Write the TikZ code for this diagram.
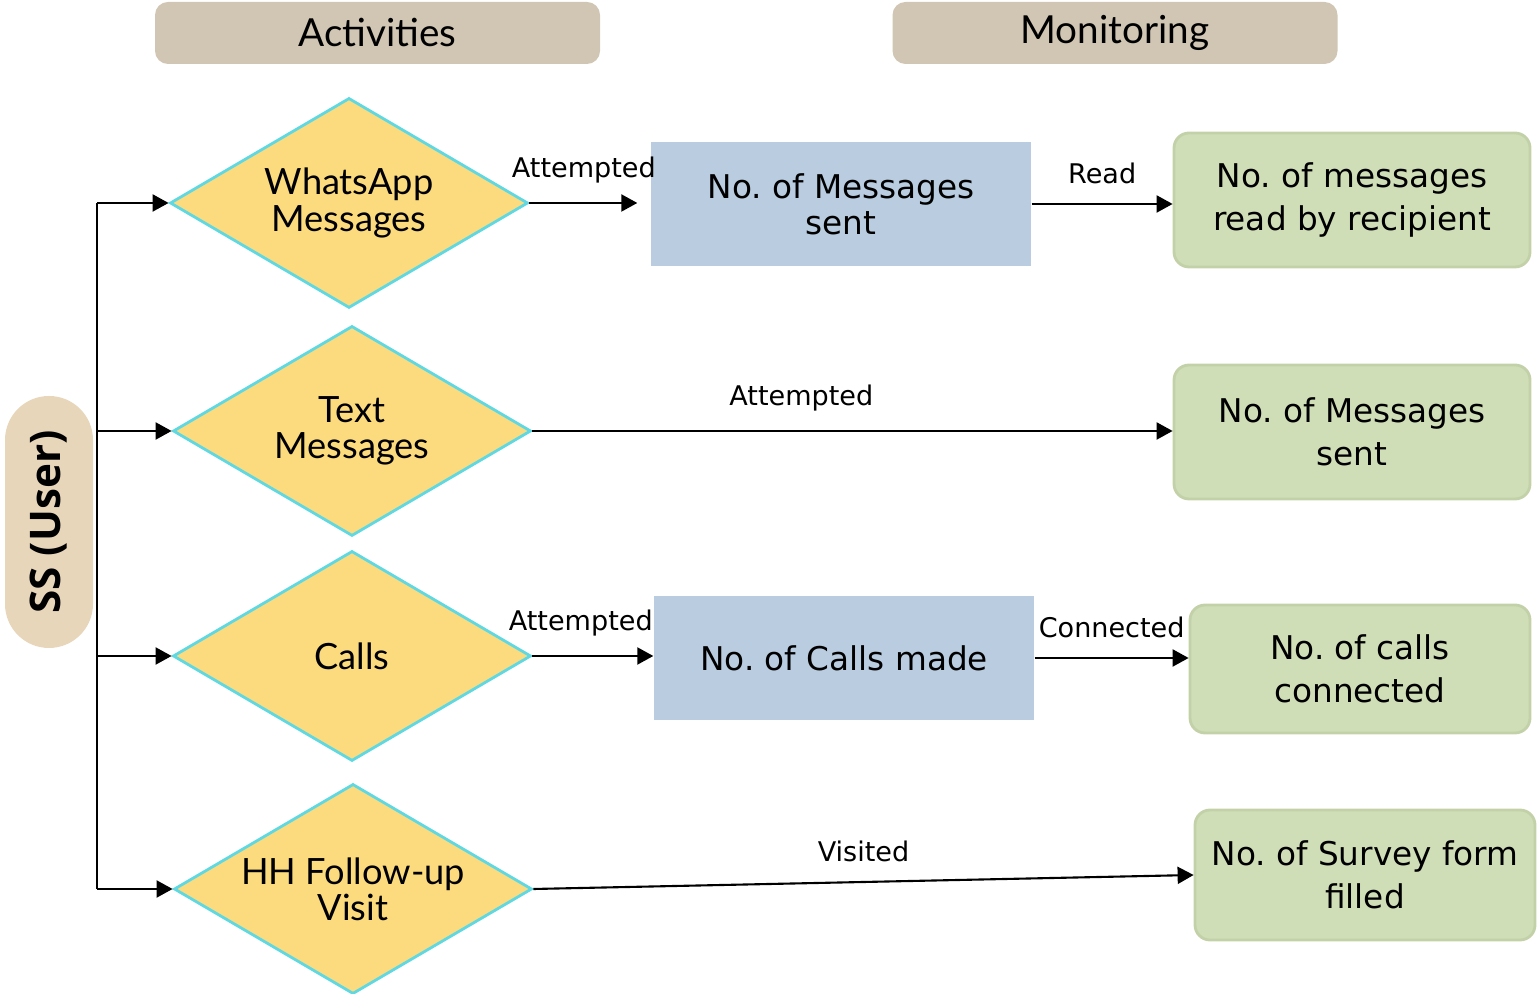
\documentclass[tikz,border=0pt]{standalone}
\usepackage{fontspec}
\setmainfont{DejaVu Sans}
\newfontfamily\latofont{Lato}
\newfontfamily\opensans{Open Sans}
\usetikzlibrary{shapes.geometric,arrows.meta}
\definecolor{headtan}{HTML}{D0C6B3}
\definecolor{usertan}{HTML}{E8D6BA}
\definecolor{actyellow}{HTML}{FCDB7E}
\definecolor{actcyan}{HTML}{5FD8E2}
\definecolor{cntblue}{HTML}{B9CCE0}
\definecolor{resgreen}{HTML}{D0DEB8}
\definecolor{resline}{HTML}{C3D1A8}

\begin{document}
\frenchspacing
\begin{tikzpicture}[
	arr/.style={line width=0.6pt, -{Triangle[length=0.16cm,width=0.17cm]}},
	head/.style={rounded corners=0.13cm, fill=headtan, minimum width=4.45cm, minimum height=0.62cm, font=\latofont\fontsize{11}{11}\selectfont},
	act/.style={diamond, aspect=1.7, inner sep=0pt, fill=actyellow, draw=actcyan, line width=0.8pt, minimum width=3.58cm, minimum height=2.1cm, align=center, font=\latofont\fontsize{10.3}{10.3}\selectfont},
	cnt/.style={rectangle, fill=cntblue, minimum width=3.8cm, minimum height=1.24cm, align=center, font=\fontsize{9.3}{10.3}\selectfont},
	res/.style={rounded corners=0.15cm, fill=resgreen, draw=resline, line width=0.8pt, align=center, font=\fontsize{9.3}{12.2}\selectfont},
	lbl/.style={above=2pt, font=\fontsize{7.7}{9}\selectfont}
]
	\useasboundingbox (0,0) rectangle (15.37,9.94);
	%Headers
	\node [head] (acthead) at (3.775,9.61) {Activities};
	\node [head] (monhead) at (11.15,9.61) {Monitoring};
	%User
	\node [rounded corners=0.44cm, fill=usertan, minimum width=2.52cm, minimum height=0.88cm, rotate=90, font=\opensans\bfseries\fontsize{12}{12}\selectfont] (user) at (0.49,4.72) {SS (User)};
	%Activities
	\node [act] (wa) at (3.49,7.91) {WhatsApp\\Messages};
	\node [act] (txt) at (3.52,5.63) {Text\\Messages};
	\node [act] (calls) at (3.52,3.38) {Calls};
	\node [act] (hh) at (3.53,1.05) {HH Follow-up\\Visit};
	%Counts
	\node [cnt] (msent) at (8.41,7.90) {No. of Messages\\sent};
	\node [cnt] (cmade) at (8.44,3.36) {No. of Calls made};
	%Results
	\node [res, minimum width=3.56cm, minimum height=1.34cm] (read) at (13.52,7.94) {No. of messages\\read by recipient};
	\node [res, minimum width=3.56cm, minimum height=1.34cm] (tsent) at (13.52,5.62) {No. of Messages\\sent};
	\node [res, minimum width=3.4cm, minimum height=1.28cm] (conn) at (13.60,3.25) {No. of calls\\connected};
	\node [res, minimum width=3.4cm, minimum height=1.3cm] (survey) at (13.65,1.19) {No. of Survey form\\filled};
	%Bus from user
	\coordinate (bus) at (0.97,0);
	\draw [line width=0.6pt] (bus |- wa.west) -- (bus |- hh.west);
	\foreach \n in {wa,txt,calls,hh}
		\draw [arr] (bus |- \n.west) -- (\n.west);
	%Links
	\draw [arr, shorten >=0.13cm] (wa.east) -- (wa.east -| msent.west) node [pos=0.45, lbl] {Attempted};
	\draw [arr] (msent.east) -- (msent.east -| read.west) node [pos=0.5, lbl] {Read};
	\draw [arr] (txt.east) -- (txt.east -| tsent.west) node [pos=0.42, lbl] {Attempted};
	\draw [arr] (calls.east) -- (calls.east -| cmade.west) node [pos=0.4, lbl] {Attempted};
	\draw [arr] (cmade.east) -- (cmade.east -| conn.west) node [pos=0.5, lbl] {Connected};
	\draw [arr] (hh.east) -- (survey.west) node [pos=0.5, lbl] {Visited};
\end{tikzpicture}
\end{document}
